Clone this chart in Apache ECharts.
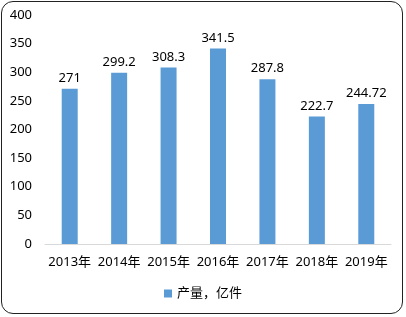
<!DOCTYPE html>
<html><head><meta charset="utf-8">
<script src="https://cdn.jsdelivr.net/npm/echarts@6/dist/echarts.min.js"></script>
<style>
html,body{margin:0;padding:0;background:#fff;}
#wrap{position:absolute;left:1px;top:1px;width:402px;height:313px;border:1px solid #222;border-radius:12px;box-sizing:border-box;overflow:hidden;}
#c{position:absolute;left:0;top:0;width:406px;height:317px;}
</style></head>
<body>
<div id="c"></div>
<div id="wrap"></div>
<script>
var categories = ["2013年","2014年","2015年","2016年","2017年","2018年","2019年"];
var values = [271, 299.2, 308.3, 341.5, 287.8, 222.7, 244.72];
var seriesName = "产量，亿件";
var yTicks = {min:0, max:400, interval:50};
var font = "'Noto Sans', 'Noto Sans CJK SC', sans-serif";
var chart = echarts.init(document.getElementById('c'), null, {renderer:'canvas'});
chart.setOption({
  animation:false,
  textStyle:{fontFamily:font},
  grid:{left:45, right:15, top:15, bottom:73, containLabel:false},
  legend:{bottom:12, left:'center', itemWidth:8, itemHeight:8, icon:'rect', itemGap:5,
    textStyle:{fontSize:13, color:'#000', fontFamily:font}, data:[seriesName]},
  xAxis:{type:'category', data:categories,
    axisLine:{lineStyle:{color:'#d9d9d9'}}, axisTick:{show:false},
    axisLabel:{fontSize:13, color:'#000', margin:12, interval:0, fontFamily:font}},
  yAxis:{type:'value', min:yTicks.min, max:yTicks.max, interval:yTicks.interval,
    splitLine:{show:false}, axisLine:{show:false}, axisTick:{show:false},
    axisLabel:{fontSize:13, color:'#000', margin:13, fontFamily:font}},
  series:[{name:seriesName, type:'bar', data:values, barWidth:16,
    itemStyle:{color:'#5b9bd5'},
    label:{show:true, position:'top', fontSize:13, color:'#000', distance:4, fontFamily:font}}]
});
</script>
</body></html>
